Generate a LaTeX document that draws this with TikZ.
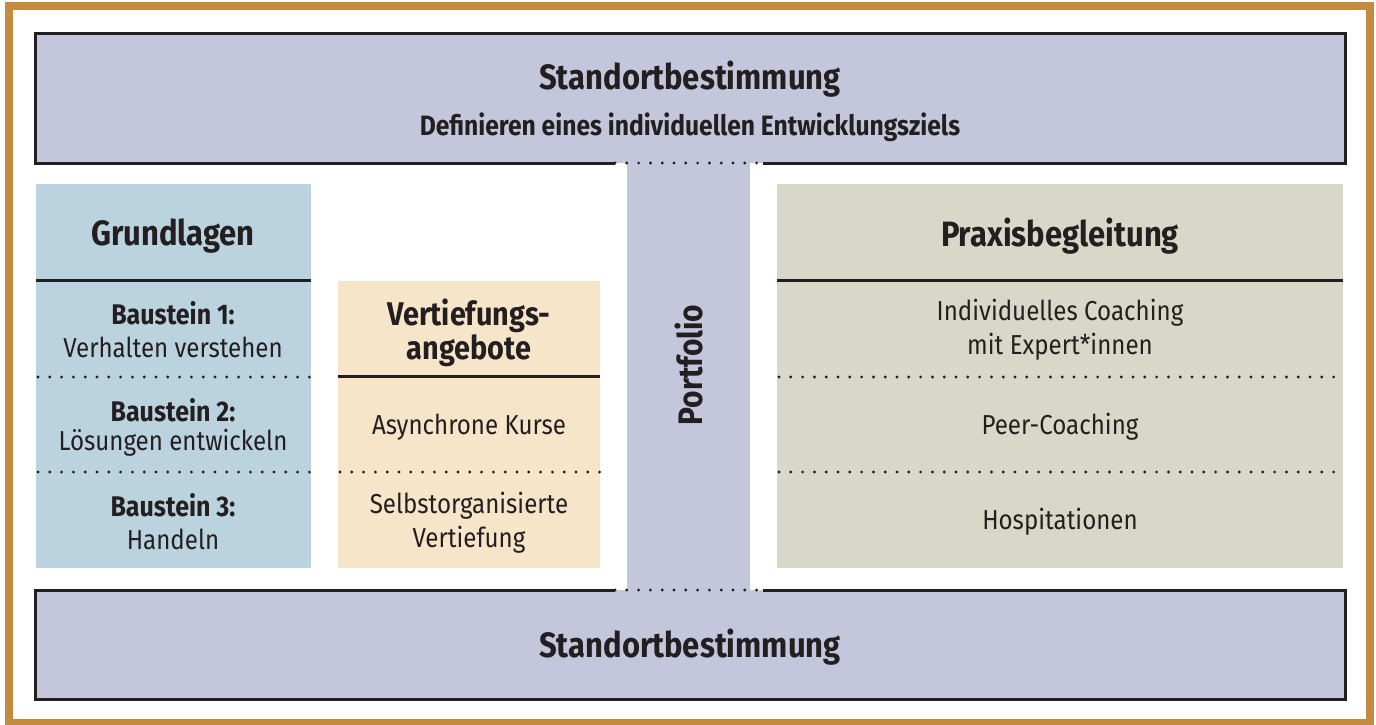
\documentclass[tikz,border=0pt]{standalone}
\usepackage{fontspec}
\setmainfont{Fira Sans}[FakeStretch=0.88]
\definecolor{gold}{HTML}{C38B40}
\definecolor{lav}{HTML}{C4C6DC}
\definecolor{blu}{HTML}{BBD3DE}
\definecolor{cream}{HTML}{F6E5C8}
\definecolor{sand}{HTML}{D9D8C8}
\definecolor{ink}{HTML}{231F20}
\tikzset{
  solidrule/.style={draw=ink,line width=1.5pt},
  dotrule/.style={draw=ink,line width=1.6pt,line cap=round,dash pattern=on 0pt off 5.9pt},
  bigtitle/.style={font=\fontsize{17.6}{20}\selectfont\bfseries,text=ink,inner sep=0pt},
  subtitle/.style={font=\fontsize{14}{15}\selectfont\bfseries,text=ink,inner sep=0pt},
  bodytxt/.style={font=\fontsize{13.7}{17}\selectfont,text=ink,inner sep=0pt,align=center},
  boldtxt/.style={font=\fontsize{14.2}{17}\selectfont\bfseries,text=ink,inner sep=0pt},
  midtitle/.style={font=\fontsize{16.4}{17}\selectfont\bfseries,text=ink,inner sep=0pt,align=center},
}
\begin{document}
\begin{tikzpicture}[x=0.5pt,y=-0.5pt]
\useasboundingbox (0,0) rectangle (1376,724);
% outer gold frame
\draw[gold,line width=3.7pt] (9,6) rectangle (1370,723);
% fills
\fill[lav] (35,33) rectangle (1345,163);
\fill[lav] (35,590) rectangle (1345,699);
\fill[lav] (627,163) rectangle (750,590);
\fill[blu] (36,184) rectangle (311,568);
\fill[cream] (338,281) rectangle (600,568);
\fill[sand] (777,184) rectangle (1343,568);
% top box border
\coordinate (tl) at (35,33); \coordinate (tr) at (1345,33);
\coordinate (bl) at (35,163); \coordinate (br) at (1345,163);
\coordinate (g1) at (615,163); \coordinate (g2) at (763,163);
\draw[solidrule] (g1) -- (bl) -- (tl) -- (tr) -- (br) -- (g2);
\draw[dotrule] (g1) -- (g2);
% bottom box border
\coordinate (btl) at (35,590); \coordinate (btr) at (1345,590);
\coordinate (bbl) at (35,699); \coordinate (bbr) at (1345,699);
\coordinate (h1) at (615,590); \coordinate (h2) at (763,590);
\draw[solidrule] (h1) -- (btl) -- (bbl) -- (bbr) -- (btr) -- (h2);
\draw[dotrule] (h1) -- (h2);
% column rules
\draw[solidrule] (36,280) -- (311,280);
\draw[dotrule] (38,377) -- (311,377);
\draw[dotrule] (38,472) -- (311,472);
\draw[solidrule] (338,376) -- (600,376);
\draw[dotrule] (340,472) -- (600,472);
\draw[solidrule] (777,280) -- (1343,280);
\draw[dotrule] (779,377) -- (1343,377);
\draw[dotrule] (779,472) -- (1343,472);
% texts
\node[bigtitle] (st1) at (690,79) {Standortbestimmung};
\node[subtitle] (def) at (690,127) {Definieren eines individuellen Entwicklungsziels};
\node[bigtitle] (st2) at (690,647) {Standortbestimmung};
\node[bigtitle] (gru) at (173,236) {Grundlagen};
\node[boldtxt] (b1) at (173,313) {Baustein 1:};
\node[bodytxt] (b1t) at (173,347) {Verhalten verstehen};
\node[boldtxt] (b2) at (173,410) {Baustein 2:};
\node[bodytxt] (b2t) at (173,443) {Lösungen entwickeln};
\node[boldtxt] (b3) at (173,505) {Baustein 3:};
\node[bodytxt] (b3t) at (173,539) {Handeln};
\node[midtitle] (vt) at (469,333) {Vertiefungs-\\angebote};
\node[bodytxt] (ak) at (469,427) {Asynchrone Kurse};
\node[bodytxt] (sv) at (469,523) {Selbstorganisierte\\Vertiefung};
\node[midtitle,font=\fontsize{17}{17}\selectfont\bfseries,rotate=90] (pf) at (689,365) {Portfolio};
\node[bigtitle] (pb) at (1060,236) {Praxisbegleitung};
\node[bodytxt] (ic) at (1060,330) {Individuelles Coaching\\mit Expert*innen};
\node[bodytxt] (pc) at (1060,427) {Peer-Coaching};
\node[bodytxt] (ho) at (1060,522) {Hospitationen};
\end{tikzpicture}
\end{document}
